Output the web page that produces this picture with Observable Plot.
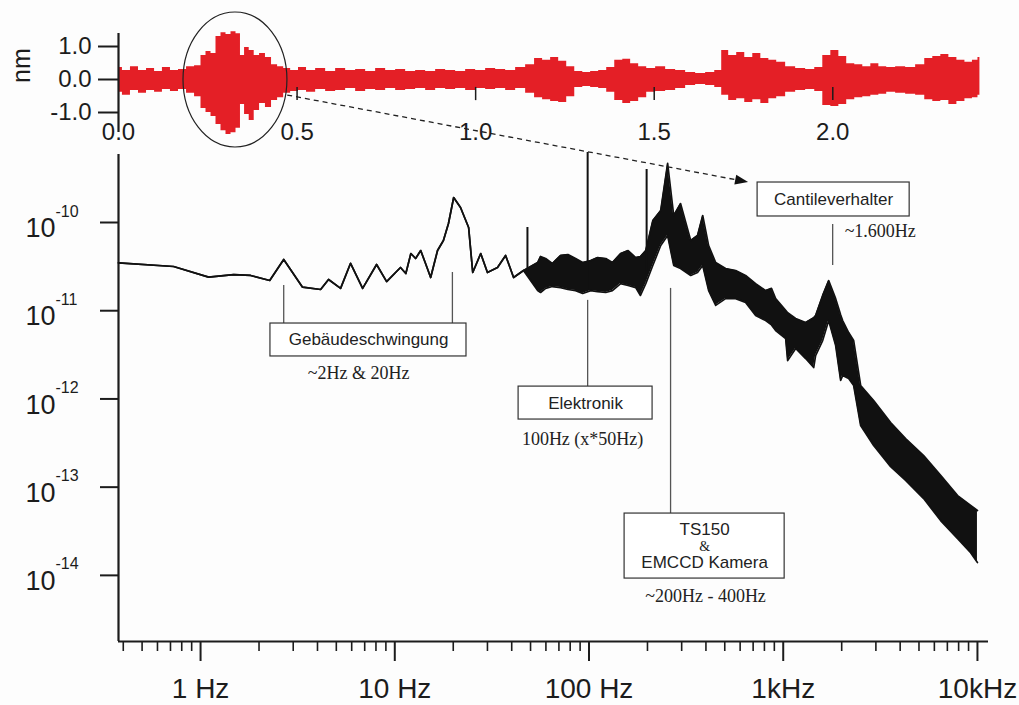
<!DOCTYPE html>
<html><head><meta charset="utf-8">
<script src="https://cdn.jsdelivr.net/npm/d3@7"></script>
<script src="https://cdn.jsdelivr.net/npm/@observablehq/plot@0.6"></script>
<style>
body{margin:0;background:#fdfdfd;}
#wrap{position:relative;width:1019px;height:705px;overflow:hidden;}
#wrap svg{position:absolute;left:0;top:0;}
</style></head><body><div id="wrap"></div>
<script>
// ---------- top panel: displacement signal (envelope, nm vs s) ----------
const sigTime = [0.000,0.022,0.045,0.067,0.090,0.112,0.134,0.157,0.179,0.202,
  0.224,0.238,0.252,0.266,0.280,0.294,0.308,0.322,0.336,0.347,
  0.359,0.373,0.387,0.403,0.420,0.437,0.454,0.471,0.493,0.515,
  0.538,0.566,0.594,0.622,0.650,0.678,0.706,0.734,0.762,0.790,
  0.818,0.846,0.874,0.902,0.930,0.958,0.986,1.014,1.042,1.070,
  1.098,1.126,1.154,1.176,1.199,1.221,1.244,1.266,1.289,1.311,
  1.333,1.356,1.378,1.401,1.423,1.445,1.468,1.490,1.518,1.546,
  1.574,1.602,1.630,1.658,1.681,1.697,1.720,1.742,1.765,1.787,
  1.810,1.832,1.854,1.882,1.910,1.938,1.961,1.983,2.006,2.028,
  2.050,2.073,2.095,2.118,2.140,2.162,2.190,2.218,2.246,2.269,
  2.291,2.314,2.336,2.359,2.381,2.401,2.412];
const sigUpper = [0.36,0.27,0.39,0.27,0.33,0.24,0.36,0.27,0.30,0.39,
  0.42,0.73,0.85,0.79,1.30,1.42,1.36,1.45,1.39,0.73,
  0.97,0.88,0.73,0.79,0.67,0.45,0.39,0.33,0.27,0.36,
  0.27,0.33,0.24,0.33,0.27,0.30,0.24,0.33,0.27,0.30,
  0.24,0.27,0.24,0.30,0.27,0.24,0.30,0.27,0.33,0.30,
  0.27,0.36,0.45,0.64,0.58,0.67,0.55,0.39,0.24,0.21,
  0.24,0.27,0.36,0.58,0.61,0.48,0.39,0.33,0.39,0.30,
  0.27,0.21,0.18,0.21,0.27,0.88,0.73,0.82,0.67,0.79,
  0.64,0.58,0.52,0.39,0.33,0.30,0.36,0.73,0.88,0.70,
  0.48,0.45,0.39,0.48,0.39,0.36,0.39,0.36,0.45,0.64,
  0.70,0.76,0.67,0.58,0.52,0.58,0.67];
const sigLower = [-0.39,-0.48,-0.33,-0.42,-0.33,-0.39,-0.30,-0.36,-0.30,-0.42,
  -0.52,-0.88,-1.00,-1.12,-1.36,-1.55,-1.67,-1.61,-1.48,-0.76,
  -1.06,-1.24,-0.94,-0.73,-0.85,-0.64,-0.55,-0.42,-0.36,-0.33,
  -0.39,-0.30,-0.36,-0.33,-0.27,-0.36,-0.30,-0.33,-0.27,-0.33,
  -0.30,-0.27,-0.33,-0.27,-0.30,-0.27,-0.33,-0.27,-0.30,-0.27,
  -0.33,-0.27,-0.42,-0.55,-0.61,-0.67,-0.70,-0.52,-0.24,-0.21,
  -0.24,-0.27,-0.39,-0.64,-0.73,-0.67,-0.55,-0.39,-0.36,-0.33,
  -0.27,-0.18,-0.15,-0.18,-0.24,-0.48,-0.64,-0.58,-0.70,-0.61,
  -0.73,-0.58,-0.52,-0.39,-0.33,-0.30,-0.36,-0.79,-0.82,-0.76,
  -0.61,-0.55,-0.52,-0.48,-0.45,-0.39,-0.42,-0.45,-0.48,-0.61,
  -0.67,-0.64,-0.76,-0.67,-0.58,-0.55,-0.48];
const timeTicks = [0, 0.5, 1.0, 1.5, 2.0];
const timeTickLabels = ["0.0", "0.5", "1.0", "1.5", "2.0"];
const nmTicks = [-1, 0, 1];
const nmTickLabels = ["-1.0", "0.0", "1.0"];

// ---------- bottom panel: amplitude spectrum (Hz, log-log); thin line where high == low ----------
const specFreq = [0.378, 0.726, 1.10, 1.48, 1.81, 2.27, 2.68, 3.35, 4.15, 4.56, 5.26, 5.92, 6.83, 8.06, 9.08, 10.7, 11.4, 12.1, 12.8, 13.6, 14.4, 15.3, 16.6, 17.8, 18.9, 20.1, 21.8, 24.0, 25.2, 27.7, 30.0, 33.8, 37.2, 40.9, 46.0,
  54.4, 56.3, 59.8, 64.7, 71.4, 77.9, 85.3, 92.8, 102, 110.7, 122, 132, 145.5, 159, 174, 184, 196, 213, 234, 254, 273, 296, 334, 362, 385, 413, 449, 505, 569, 640, 721, 812, 870, 914, 1029, 1054, 1159, 1304, 1435, 1468, 1596, 1714, 1862, 1975, 2023, 2172, 2305, 2504, 2921, 3573, 4267, 5284, 6463, 7907, 9226, 10000];
const specHigh = [3.49e-11, 3.17e-11, 2.40e-11, 2.57e-11, 2.51e-11, 2.20e-11, 3.81e-11, 1.85e-11, 1.74e-11, 2.26e-11, 1.79e-11, 3.45e-11, 1.79e-11, 3.34e-11, 2.14e-11, 3.09e-11, 2.64e-11, 4.45e-11, 3.91e-11, 4.81e-11, 3.43e-11, 2.38e-11, 4.81e-11, 6.25e-11, 9.74e-11, 1.92e-10, 1.48e-10, 8.78e-11, 2.71e-11, 4.45e-11, 2.71e-11, 3.09e-11, 4.23e-11, 2.38e-11, 2.86e-11,
  3.52e-11, 4.12e-11, 3.91e-11, 3.43e-11, 4.23e-11, 4.34e-11, 3.91e-11, 3.52e-11, 3.71e-11, 4.01e-11, 3.91e-11, 3.52e-11, 4.45e-11, 4.81e-11, 4.01e-11, 4.12e-11, 4.81e-11, 1.05e-10, 1.37e-10, 4.67e-10, 1.20e-10, 1.64e-10, 6.25e-11, 7.12e-11, 1.20e-10, 5.48e-11, 3.52e-11, 3.01e-11, 2.86e-11, 2.51e-11, 2.03e-11, 1.69e-11, 1.79e-11, 1.37e-11, 1.01e-11, 9.5e-12, 8.16e-12, 7.35e-12, 8.3e-12, 8.82e-12, 1.49e-11, 2.20e-11, 1.37e-11, 9.0e-12, 7.74e-12, 5.66e-12, 4.59e-12, 1.42e-12, 9.59e-13, 5.40e-13, 3.56e-13, 2.28e-13, 1.36e-13, 8.03e-14, 6.19e-14, 5.43e-14];
const specLow = [3.49e-11, 3.17e-11, 2.40e-11, 2.57e-11, 2.51e-11, 2.20e-11, 3.81e-11, 1.85e-11, 1.74e-11, 2.26e-11, 1.79e-11, 3.45e-11, 1.79e-11, 3.34e-11, 2.14e-11, 3.09e-11, 2.64e-11, 4.45e-11, 3.91e-11, 4.81e-11, 3.43e-11, 2.38e-11, 4.81e-11, 6.25e-11, 9.74e-11, 1.92e-10, 1.48e-10, 8.78e-11, 2.71e-11, 4.45e-11, 2.71e-11, 3.09e-11, 4.23e-11, 2.38e-11, 2.86e-11,
  1.69e-11, 1.61e-11, 1.79e-11, 1.88e-11, 1.83e-11, 1.74e-11, 1.69e-11, 1.57e-11, 1.69e-11, 1.65e-11, 1.61e-11, 1.69e-11, 2.03e-11, 1.93e-11, 1.83e-11, 1.49e-11, 2.03e-11, 3.26e-11, 5.48e-11, 7.12e-11, 3.26e-11, 3.01e-11, 2.51e-11, 2.71e-11, 3.26e-11, 1.69e-11, 1.15e-11, 1.37e-11, 1.37e-11, 1.24e-11, 8.82e-12, 7.74e-12, 6.9e-12, 5.96e-12, 4.84e-12, 2.72e-12, 3.73e-12, 2.87e-12, 2.27e-12, 3.10e-12, 4.59e-12, 7.74e-12, 4.03e-12, 1.62e-12, 1.84e-12, 1.70e-12, 1.42e-12, 4.99e-13, 2.96e-13, 1.71e-13, 1.19e-13, 7.43e-14, 4.18e-14, 2.61e-14, 1.81e-14, 1.40e-14];
const spikeFreq = [48.2, 98.4, 198];
const spikeLow = [2.71e-11, 1.69e-11, 2.6e-11];
const spikeHigh = [8.78e-11, 6.22e-10, 3.99e-10];
const freqTicks = [1, 10, 100, 1000, 10000];
const freqTickLabels = ["1 Hz", "10 Hz", "100 Hz", "1kHz", "10kHz"];
const ampTicks = [1e-10, 1e-11, 1e-12, 1e-13, 1e-14];
const ampTickExponents = ["-10", "-11", "-12", "-13", "-14"];

// ---------- annotations (anchored in data units) ----------
const boxNames = ["Gebäudeschwingung", "Elektronik", "TS150", "Cantileverhalter"];
const boxF1 = [2.29, 43.4, 152.5, 738];
const boxF2 = [23.4, 212.5, 1017, 4477];
const boxV1 = [3.03e-12, 5.84e-13, 9.2e-15, 1.17e-10];
const boxV2 = [7.16e-12, 1.38e-12, 5.02e-14, 2.84e-10];
const boxText = ["Gebäudeschwingung", "Elektronik", "TS150", "EMCCD Kamera", "Cantileverhalter"];
const boxTextF = [7.33, 96, 394, 394, 1817];
const boxTextV = [4.66e-12, 8.98e-13, 3.31e-14, 1.40e-14, 1.82e-10];
const noteText = ["~2Hz & 20Hz", "100Hz (x*50Hz)", "~200Hz - 400Hz"];
const noteF = [6.51, 92.7, 398];
const noteV = [1.94e-12, 3.47e-13, 5.75e-15];
const leaderF = [2.68, 19.8, 98.4, 263, 1797];
const leaderV1 = [1.93e-11, 2.71e-11, 1.31e-11, 1.79e-11, 9.49e-11];
const leaderV2 = [7.16e-12, 7.16e-12, 1.38e-12, 5.02e-14, 3.26e-11];

const W = 1019, H = 705;
const sans = "'Liberation Sans', Arial, Helvetica, sans-serif";
const narrow = "'Liberation Sans Narrow', 'Arial Narrow', 'Liberation Sans', sans-serif";
const serif = "'Liberation Serif', 'Times New Roman', serif";
const ink = "#1c1c1c";

const spec = specFreq.map((f, i) => ({f, hi: specHigh[i], lo: specLow[i]}));
const spikes = spikeFreq.map((f, i) => ({f, lo: spikeLow[i], hi: spikeHigh[i]}));
const boxes = boxNames.map((n, i) => ({n, f1: boxF1[i], f2: boxF2[i], v1: boxV1[i], v2: boxV2[i]}));
const btexts = boxText.map((t, i) => ({t, f: boxTextF[i], v: boxTextV[i]}));
const notes = noteText.map((t, i) => ({t, f: noteF[i], v: noteV[i]}));
const leaders = leaderF.map((f, i) => ({f, v1: leaderV1[i], v2: leaderV2[i]}));
const ampTickRows = ampTicks.map((v, i) => ({v, e: ampTickExponents[i]}));
const minorTicks = [];
for (const dec of [0.1, 1, 10, 100, 1000]) for (let m = 2; m <= 9; m++) { const t = m * dec; if (t >= 0.39 && t < 10001) minorTicks.push(t); }

const arrowFrom = {f: 2.81, v: 2.75e-9};
const arrowTo = {f: 663, v: 2.84e-10};

const bottomPlot = Plot.plot({
  width: W, height: H,
  marginLeft: 118, marginRight: 31, marginTop: 154, marginBottom: 64,
  style: {background: "transparent", overflow: "visible", fontFamily: sans, color: ink},
  x: {type: "log", domain: [0.378, 11400], label: null},
  y: {type: "log", domain: [1.78e-15, 5.9e-10], label: null},
  marks: [
    Plot.axisX({ticks: minorTicks, tickSize: 10, tickFormat: () => "", strokeWidth: 1.6, label: null}),
    Plot.axisX({ticks: freqTicks, tickSize: 20, tickPadding: 17, tickFormat: d => freqTickLabels[freqTicks.indexOf(d)], fontSize: 28, fontFamily: narrow, strokeWidth: 2, label: null}),
    Plot.axisY({ticks: ampTicks, tickSize: 18, tickFormat: () => "", strokeWidth: 2, label: null}),
    Plot.text(ampTickRows, {y: "v", frameAnchor: "left", text: () => "10", textAnchor: "end", dx: -63, dy: 6, fontSize: 27, fill: ink}),
    Plot.text(ampTickRows, {y: "v", frameAnchor: "left", text: "e", textAnchor: "start", dx: -63, dy: -11, fontSize: 16, fill: ink}),
    Plot.ruleX([0.378], {stroke: ink, strokeWidth: 2.2}),
    Plot.ruleY([1.78e-15], {stroke: ink, strokeWidth: 2.2}),
    Plot.areaY(spec, {x: "f", y1: "lo", y2: "hi", fill: "#111"}),
    Plot.line(spec, {x: "f", y: "hi", stroke: "#111", strokeWidth: 1.7}),
    Plot.line(spec, {x: "f", y: "lo", stroke: "#111", strokeWidth: 1.7}),
    Plot.ruleX(spikes, {x: "f", y1: "lo", y2: "hi", stroke: "#111", strokeWidth: 2}),
    Plot.ruleX(leaders, {x: "f", y1: "v1", y2: "v2", stroke: "#555", strokeWidth: 1.3}),
    Plot.rect(boxes, {x1: "f1", x2: "f2", y1: "v1", y2: "v2", fill: "white", stroke: "#333", strokeWidth: 1.2}),
    Plot.text(btexts, {x: "f", y: "v", text: "t", fontSize: 17, fill: "#222", fontFamily: sans}),
    Plot.text(["&"], {x: () => boxTextF[2], y: () => 2.12e-14, text: d => d, fontSize: 14, fill: "#222", fontFamily: serif}),
    Plot.text(notes, {x: "f", y: "v", text: "t", fontSize: 18, fill: "#222", fontFamily: serif}),
    Plot.text(["~1.600Hz"], {x: () => 2071, y: () => 7.9e-11, text: d => d, textAnchor: "start", fontSize: 18, fill: "#222", fontFamily: serif}),
    (index, scales) => {
      const x1 = scales.x(arrowFrom.f), y1 = scales.y(arrowFrom.v);
      const x2 = scales.x(arrowTo.f), y2 = scales.y(arrowTo.v);
      const a = Math.atan2(y2 - y1, x2 - x1), hl = 13, hw = 5;
      const bx = x2 - hl * Math.cos(a), by = y2 - hl * Math.sin(a);
      const g = d3.create("svg:g");
      g.append("line").attr("x1", x1).attr("y1", y1).attr("x2", bx).attr("y2", by)
        .attr("stroke", "#222").attr("stroke-width", 1.3).attr("stroke-dasharray", "5,4");
      g.append("polygon").attr("fill", "#111").attr("points",
        `${x2},${y2} ${bx + hw * Math.sin(a)},${by - hw * Math.cos(a)} ${bx - hw * Math.sin(a)},${by + hw * Math.cos(a)}`);
      return g.node();
    }
  ]
});

const sig = sigTime.map((t, i) => ({t, up: sigUpper[i], lo: sigLower[i]}));
const ellipse = {t1: 0.182, t2: 0.473, y1: -2.06, y2: 2.03};
const topPlot = Plot.plot({
  width: W, height: 160,
  marginLeft: 118, marginRight: 26, marginTop: 33, marginBottom: 28,
  style: {background: "transparent", overflow: "visible", fontFamily: sans, color: ink},
  x: {domain: [0, 2.45], label: null},
  y: {domain: [-1.606, 1.394], label: null},
  marks: [
    Plot.areaY(sig, {x: "t", y1: "lo", y2: "up", fill: "#e41f26", curve: "step"}),
    Plot.ruleX(timeTicks.slice(1), {x: d => d, y1: () => -0.24, y2: () => -0.64, stroke: ink, strokeWidth: 1.5}),
    Plot.axisX({ticks: timeTicks, tickSize: 0, tickPadding: -10, tickFormat: d => timeTickLabels[timeTicks.indexOf(d)], fontSize: 24, label: null}),
    Plot.axisY({ticks: nmTicks, tickSize: 20, tickPadding: 7, tickFormat: d => nmTickLabels[nmTicks.indexOf(d)], fontSize: 24, strokeWidth: 2, label: null}),
    Plot.ruleX([0], {stroke: ink, strokeWidth: 2.2}),
    Plot.text(["nm"], {frameAnchor: "left", text: d => d, dx: -97, rotate: -90, fontSize: 25, fill: ink}),
    (index, scales) => {
      const cx = (scales.x(ellipse.t1) + scales.x(ellipse.t2)) / 2;
      const cy = (scales.y(ellipse.y1) + scales.y(ellipse.y2)) / 2;
      const rx = Math.abs(scales.x(ellipse.t2) - scales.x(ellipse.t1)) / 2;
      const ry = Math.abs(scales.y(ellipse.y1) - scales.y(ellipse.y2)) / 2;
      return d3.create("svg:ellipse").attr("cx", cx).attr("cy", cy).attr("rx", rx).attr("ry", ry)
        .attr("fill", "none").attr("stroke", "#222").attr("stroke-width", 1.2).node();
    }
  ]
});

const wrap = document.getElementById("wrap");
wrap.appendChild(bottomPlot);
wrap.appendChild(topPlot);
</script></body></html>
